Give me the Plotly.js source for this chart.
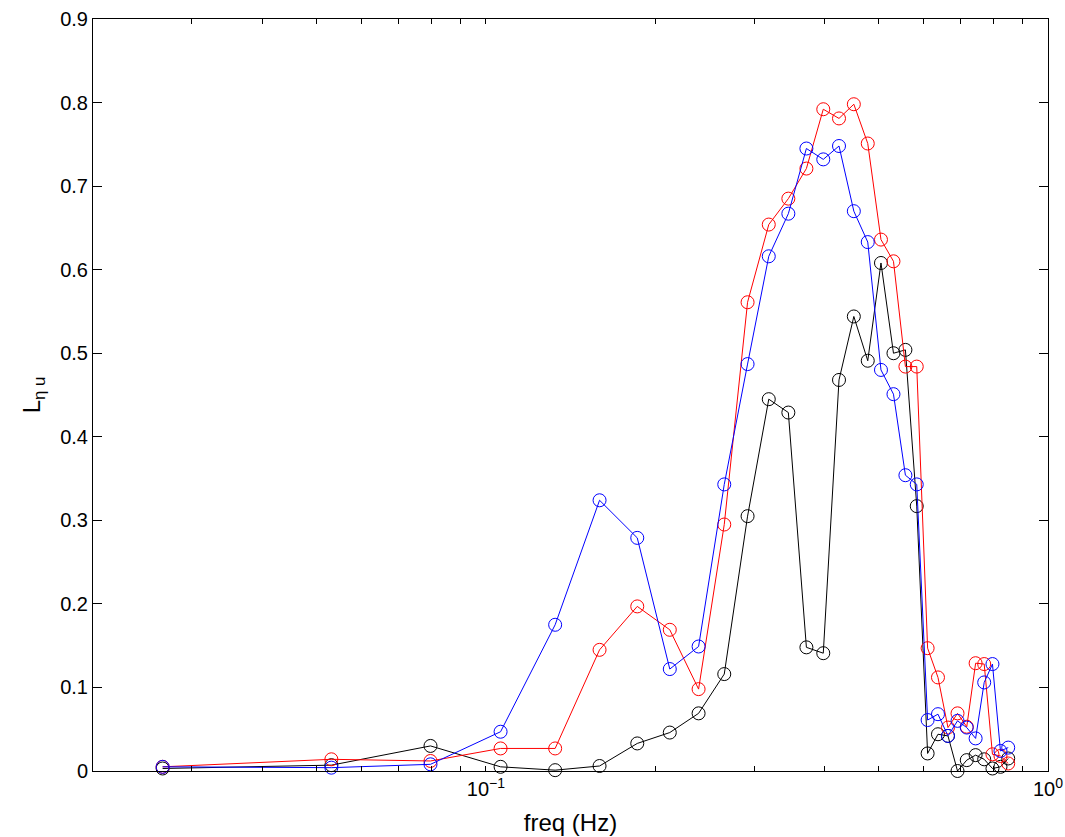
<!DOCTYPE html>
<html>
<head>
<meta charset="utf-8">
<script src="https://cdn.plot.ly/plotly-3.0.1.min.js"></script>
<style>html,body{margin:0;padding:0;background:#fff;}#chart{width:1065px;height:837px;}</style>
</head>
<body>
<div id="chart"></div>
<script>
const freq = [0.0266, 0.0531, 0.0797, 0.1062, 0.1328, 0.1593, 0.1859, 0.2124, 0.2390, 0.2655,
  0.2921, 0.3186, 0.3452, 0.3717, 0.3983, 0.4248, 0.4514, 0.4779, 0.5045, 0.5310,
  0.5576, 0.5841, 0.6107, 0.6372, 0.6638, 0.6903, 0.7169, 0.7434, 0.7700, 0.7965,
  0.8231, 0.8496];
const blackSeries = [0.003, 0.007, 0.030, 0.005, 0.001, 0.006, 0.033, 0.046, 0.069, 0.116,
  0.305, 0.445, 0.429, 0.148, 0.141, 0.468, 0.544, 0.491, 0.608, 0.500,
  0.504, 0.317, 0.021, 0.044, 0.042, 0.000, 0.013, 0.019, 0.014, 0.003,
  0.005, 0.015];
const redSeries = [0.005, 0.014, 0.012, 0.027, 0.027, 0.145, 0.197, 0.169, 0.098, 0.295,
  0.561, 0.654, 0.685, 0.721, 0.792, 0.781, 0.798, 0.751, 0.636, 0.610,
  0.484, 0.484, 0.147, 0.112, 0.052, 0.069, 0.053, 0.129, 0.128, 0.020,
  0.018, 0.009];
const blueSeries = [0.005, 0.004, 0.008, 0.047, 0.175, 0.324, 0.279, 0.122, 0.149, 0.343,
  0.487, 0.616, 0.667, 0.745, 0.732, 0.748, 0.670, 0.633, 0.480, 0.451,
  0.354, 0.343, 0.061, 0.068, 0.042, 0.060, 0.052, 0.039, 0.106, 0.128,
  0.024, 0.028];
const xTickVals = [0.1, 1];
const xTickText = ['10<sup>\u22121</sup>', '10<sup>0</sup>'];
const xMinorVals = [0.02, 0.03, 0.04, 0.05, 0.06, 0.07, 0.08, 0.09, 0.2, 0.3, 0.4, 0.5, 0.6, 0.7, 0.8, 0.9];
const yTickVals = [0, 0.1, 0.2, 0.3, 0.4, 0.5, 0.6, 0.7, 0.8, 0.9];
const yTickText = ['0', '0.1', '0.2', '0.3', '0.4', '0.5', '0.6', '0.7', '0.8', '0.9'];

function mk(y, color) {
  return {
    x: freq, y: y, type: 'scatter', mode: 'lines+markers',
    line: {color: color, width: 1},
    marker: {symbol: 'circle-open', size: 13, color: color, line: {color: color, width: 1}},
    cliponaxis: false, showlegend: false
  };
}
const data = [mk(blackSeries, '#000000'), mk(redSeries, '#ff0000'), mk(blueSeries, '#0000ff')];
const FONT = 'Liberation Sans, Arial, Helvetica, sans-serif';
const layout = {
  width: 1065, height: 837,
  margin: {l: 93, r: 17, t: 19, b: 66},
  paper_bgcolor: '#ffffff', plot_bgcolor: '#ffffff',
  font: {family: FONT, size: 20, color: '#000'},
  showlegend: false,
  xaxis: {
    type: 'log', range: [Math.log10(0.02), 0],
    tickmode: 'array', tickvals: xTickVals, ticktext: xTickText,
    ticks: 'inside', ticklen: 5, tickwidth: 1, tickcolor: '#000',
    minor: {tickmode: 'array', tickvals: xMinorVals, ticks: 'inside', ticklen: 5, tickwidth: 1, tickcolor: '#000', showgrid: false},
    showline: true, linecolor: '#000', linewidth: 1, mirror: 'allticks',
    showgrid: false, zeroline: false,
    tickfont: {size: 20},
    title: {text: 'freq (Hz)', font: {size: 24}, standoff: 15}
  },
  yaxis: {
    range: [0, 0.9],
    tickmode: 'array', tickvals: yTickVals, ticktext: yTickText,
    ticks: 'inside', ticklen: 9, tickwidth: 1, tickcolor: '#000',
    showline: true, linecolor: '#000', linewidth: 1, mirror: 'allticks',
    showgrid: false, zeroline: false,
    tickfont: {size: 20},
    title: {text: 'L<sub>\u03B7 u</sub>', font: {size: 24}, standoff: 12}
  }
};
Plotly.newPlot('chart', data, layout, {displayModeBar: false, staticPlot: true});
</script>
</body>
</html>
